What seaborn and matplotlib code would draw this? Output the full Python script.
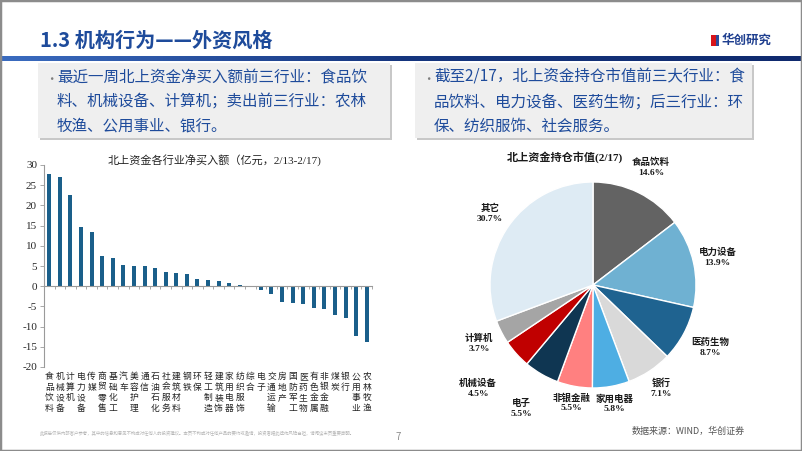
import numpy as np
import matplotlib.pyplot as plt
import matplotlib.patches as mpatches
import seaborn as sns

# 北上资金各行业净买入额（亿元，2/13-2/17）
industries = ["食品饮料", "机械设备", "计算机", "电力设备", "传媒", "商贸零售", "基础化工",
              "汽车", "美容护理", "通信", "石油石化", "社会服务", "建筑材料", "钢铁", "环保",
              "轻工制造", "建筑装饰", "家用电器", "纺织服饰", "综合", "电子", "交通运输",
              "房地产", "国防军工", "医药生物", "有色金属", "非银金融", "煤炭", "银行",
              "公用事业", "农林牧渔"]
net_buy = [27.8, 27.1, 22.6, 14.6, 13.5, 7.4, 6.9, 5.2, 5.0, 4.9, 4.4, 3.5, 3.3, 3.0, 1.8,
           1.5, 1.2, 0.7, 0.3, 0.0, -1.0, -1.9, -3.8, -4.1, -4.5, -5.5, -5.6, -7.1, -7.8,
           -12.3, -13.7]
y_ticks = [30, 25, 20, 15, 10, 5, 0, -5, -10, -15, -20]

# 北上资金持仓市值(2/17)
pie_names = ["食品饮料", "电力设备", "医药生物", "银行", "家用电器", "非银金融", "电子",
             "机械设备", "计算机", "其它"]
pie_share = [14.6, 13.9, 8.7, 7.1, 5.8, 5.5, 5.5, 4.5, 3.7, 30.7]
pie_colors = ["#636363", "#6fb1d2", "#1f6390", "#d9d9d9", "#4eaee3", "#ff8080", "#0f3652",
              "#c00000", "#a5a5a5", "#deebf4"]
label_dist = [1.27, 1.24, 1.29, 1.2, 1.17, 1.16, 1.38, 1.5, 1.24, 1.22]

sns.set_theme(style="white")
plt.rcParams["font.family"] = ["Noto Sans CJK SC", "DejaVu Sans"]
serif = ["Liberation Serif", "Noto Sans CJK SC"]
blue_txt = "#1e4b9b"

W, H = 802, 451
fig = plt.figure(figsize=(W / 100, H / 100), dpi=100)
fig.patch.set_facecolor("white")


def fx(px):
    return px / W


def fy(py):
    return 1 - py / H


# page frame
fig.patches.append(mpatches.Rectangle((0, 0), 1, 1, transform=fig.transFigure, fill=False,
                                      edgecolor="#8c8c8c", linewidth=2.5))

# header
fig.text(fx(40), fy(40), "1.3 机构行为——外资风格", color=blue_txt, fontsize=14.5,
         fontweight="bold", va="center", ha="left")
grad = fig.add_axes([0, fy(61), 1, 5 / H])
grad.imshow(np.linspace(0, 1, 256).reshape(1, -1), aspect="auto",
            cmap=sns.blend_palette(["#3b6cc0", "#16367f", "#0f2a6e"], as_cmap=True))
grad.axis("off")
fig.patches.append(mpatches.Rectangle((fx(711), fy(46)), 5 / W, 11 / H, transform=fig.transFigure,
                                      facecolor="#d7141a", edgecolor="none"))
fig.patches.append(mpatches.Rectangle((fx(716), fy(46)), 3 / W, 11 / H, transform=fig.transFigure,
                                      facecolor="#2b4c9b", edgecolor="none"))
fig.text(fx(722), fy(40), "华创研究", color="#1f3f8f", fontsize=9, fontweight="bold",
         va="center", ha="left")

# text boxes
boxes = [
    (38, 390, "最近一周北上资金净买入额前三行业：食品饮\n料、机械设备、计算机；卖出前三行业：农林\n牧渔、公用事业、银行。"),
    (415, 752, "截至2/17，北上资金持仓市值前三大行业：食\n品饮料、电力设备、医药生物；后三行业：环\n保、纺织服饰、社会服务。"),
]
for x0, x1, txt in boxes:
    fig.patches.append(mpatches.Rectangle((fx(x0 + 2), fy(140)), (x1 - x0) / W, 75 / H,
                                          transform=fig.transFigure, facecolor="#c8c8c8",
                                          edgecolor="none"))
    fig.patches.append(mpatches.Rectangle((fx(x0), fy(138)), (x1 - x0) / W, 75 / H,
                                          transform=fig.transFigure, facecolor="#efefef",
                                          edgecolor="none"))
    fig.text(fx(x0 + 7), fy(80), "•", color="#7f7f7f", fontsize=9, va="center")
    fig.text(fx(x0 + 19), fy(69), txt, color=blue_txt, fontsize=11.2, va="top",
             ha="left", linespacing=1.55)

# bar chart
ax = fig.add_axes([fx(44), fy(367), (372 - 44) / W, (367 - 165) / H])
sns.barplot(x=industries, y=net_buy, order=industries, color="#1a5f8a", saturation=1,
            width=0.38, linewidth=0, ax=ax)
ax.set_xlim(-0.5, len(industries) - 0.5)
ax.set_ylim(-20, 30)
ax.set_yticks(y_ticks)
ax.set_yticklabels([str(v) for v in y_ticks], family="Liberation Serif", fontsize=8)
ax.set_xticks([])
ax.set_xticks(np.arange(len(industries)) + 0.5, minor=True)
ax.tick_params(axis="x", which="minor", length=2.5, width=0.6, color="#9a9a9a",
               direction="out", bottom=True)
ax.tick_params(axis="y", length=3, width=0.6, color="#9a9a9a", left=True, pad=2)
for s in ["top", "right"]:
    ax.spines[s].set_visible(False)
ax.spines["bottom"].set_position(("data", 0))
ax.spines["bottom"].set_color("#9a9a9a")
ax.spines["bottom"].set_linewidth(0.8)
ax.spines["left"].set_color("#9a9a9a")
ax.spines["left"].set_linewidth(0.8)
ax.set_xlabel("")
ax.set_ylabel("")
for i, name in enumerate(industries):
    ax.text(i, -0.025, "\n".join(name), transform=ax.get_xaxis_transform(), ha="center",
            va="top", fontsize=6.3, linespacing=1.22, color="#222222")
fig.text(fx(215), fy(160), "北上资金各行业净买入额（亿元，2/13-2/17)", family=serif,
         fontsize=8, ha="center", va="center", color="#222222")

# pie chart
r = 103
pax = fig.add_axes([fx(593 - r), fy(285 + r), 2 * r / W, 2 * r / H])
wedges, _ = pax.pie(pie_share, colors=pie_colors, startangle=90, counterclock=False,
                    wedgeprops=dict(edgecolor="white", linewidth=1))
total = sum(pie_share)
acc = 0
for name, share, d in zip(pie_names, pie_share, label_dist):
    mid = np.deg2rad(90 - (acc + share / 2) / total * 360)
    acc += share
    pax.text(d * np.cos(mid), d * np.sin(mid), f"{name}\n{share:.1f}%", family=serif,
             fontsize=6.8, fontweight="bold", ha="center", va="center", linespacing=1.35,
             color="#1a1a1a")
pax.set_xlim(-1, 1)
pax.set_ylim(-1, 1)
pax.set_aspect("equal")
fig.text(fx(565), fy(157), "北上资金持仓市值(2/17)", family=serif, fontsize=8,
         fontweight="bold", ha="center", va="center", color="#1a1a1a")

# footer
fig.text(fx(40), fy(433), "此报告仅供内部客户参考，其中的信息和意见不构成对任何人的投资建议。本页不构成对任何产品的要约或邀请，投资者据此操作风险自担，请阅读末页重要声明。",
         fontsize=3.2, color="#b5b5b5", va="center", ha="left")
fig.text(fx(398), fy(437), "7", fontsize=7, color="#8c8c8c", va="center", ha="center",
         style="italic")
fig.text(fx(745), fy(431), "数据来源：WIND，华创证券", fontsize=6.5, color="#555555",
         va="center", ha="right")

fig.savefig("out.png", dpi=100)
